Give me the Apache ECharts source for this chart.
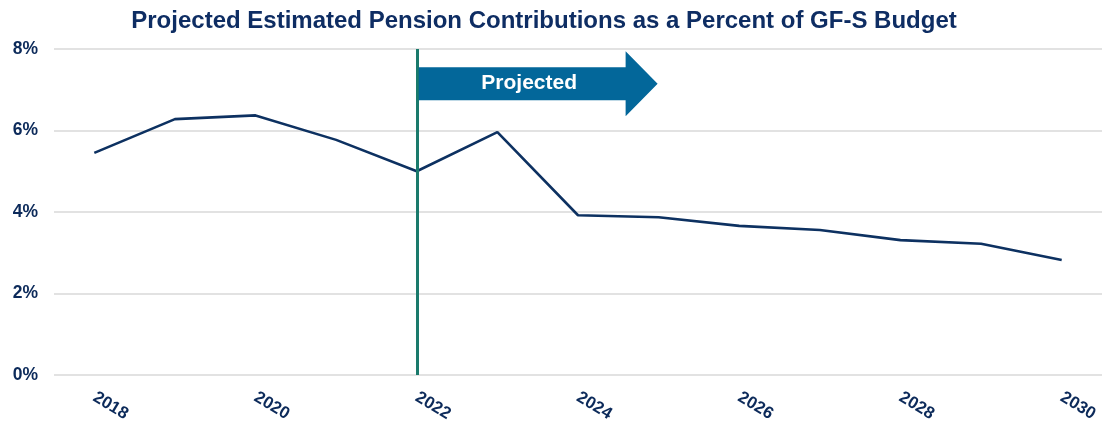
<!DOCTYPE html>
<html><head><meta charset="utf-8">
<script src="https://cdn.jsdelivr.net/npm/echarts@6/dist/echarts.min.js"></script>
<style>html,body{margin:0;padding:0;background:#fff}#c{width:1102px;height:425px}</style>
</head><body><div id="c"></div>
<script>
const years = ['2018','2019','2020','2021','2022','2023','2024','2025','2026','2027','2028','2029','2030'];
const pensionPct = [5.45, 6.28, 6.37, 5.77, 5.0, 5.96, 3.92, 3.87, 3.66, 3.56, 3.31, 3.22, 2.82];
const yTicks = [0, 2, 4, 6, 8];
const projectedStart = '2022';
const arrowTip = '2025';
const arrowLevel = 7.15;

const navy = '#0c2a5a';
const chart = echarts.init(document.getElementById('c'));
chart.setOption({
  animation: false,
  title: {
    text: 'Projected Estimated Pension Contributions as a Percent of GF-S Budget',
    left: 539, top: 4, textAlign: 'center',
    textStyle: {fontFamily: 'Liberation Sans', fontWeight: 'bold', fontSize: 24, color: '#0e2d63'}
  },
  grid: {left: 54, right: 0, top: 49, bottom: 50},
  xAxis: {
    type: 'category', data: years, boundaryGap: true,
    axisLine: {show: false}, axisTick: {show: false},
    axisLabel: {interval: 1, rotate: -31, margin: 21, color: navy,
      fontFamily: 'Liberation Sans', fontWeight: 'bold', fontSize: 17}
  },
  yAxis: {
    type: 'value', min: 0, max: 8, interval: 2,
    axisLabel: {formatter: v => yTicks.includes(v) ? v + '%' : '', color: navy, margin: 16,
      fontFamily: 'Liberation Sans', fontWeight: 'bold', fontSize: 17.5},
    splitLine: {lineStyle: {color: '#d9d9d9', width: 1.5}},
    axisLine: {show: false}, axisTick: {show: false}
  },
  series: [{
    type: 'line', data: pensionPct, symbol: 'none',
    lineStyle: {color: '#0d3161', width: 2.6},
    markLine: {
      silent: true, symbol: 'none', label: {show: false},
      lineStyle: {color: '#1a7a6c', width: 3, type: 'solid'},
      data: [[{coord: [projectedStart, 0]}, {coord: [projectedStart, 8]}]]
    }
  }]
});

function drawArrow() {
  const p0 = chart.convertToPixel({gridIndex: 0}, [projectedStart, arrowLevel]);
  const p1 = chart.convertToPixel({gridIndex: 0}, [arrowTip, arrowLevel]);
  const x0 = p0[0] + 2, cy = p0[1], tip = p1[0] - 1;
  const headW = 32, shaftH = 16.5, headH = 32.5;
  const neck = tip - headW;
  chart.setOption({
    graphic: [
      {type: 'polygon', silent: true, z: 10,
        shape: {points: [[x0, cy - shaftH], [neck, cy - shaftH], [neck, cy - headH], [tip, cy], [neck, cy + headH], [neck, cy + shaftH], [x0, cy + shaftH]]},
        style: {fill: '#03679a'}},
      {type: 'text', silent: true, z: 11, x: (x0 + neck) / 2 + 7, y: cy,
        style: {text: 'Projected', fill: '#fff', font: 'bold 21px "Liberation Sans"', align: 'center', verticalAlign: 'middle'}}
    ]
  });
}
drawArrow();
</script></body></html>
